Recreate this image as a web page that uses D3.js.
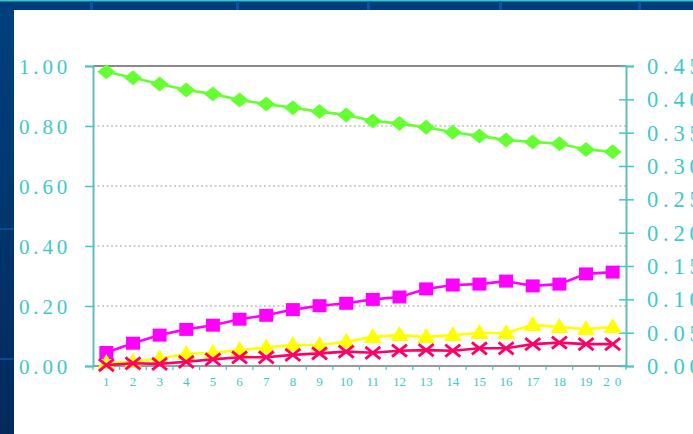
<!DOCTYPE html>
<html>
<head>
<meta charset="utf-8">
<script src="https://cdn.jsdelivr.net/npm/d3@7/dist/d3.min.js"></script>
<style>
  html, body { margin: 0; padding: 0; background: #003b7a; overflow: hidden; }
  svg { display: block; }
</style>
</head>
<body>
<svg id="chart" width="693" height="434"></svg>
<script>
// Categories along the bottom axis
const categories = ["1","2","3","4","5","6","7","8","9","10","11","12","13","14","15","16","17","18","19","20"];

// Series values (left axis)
const greenDiamond = [0.981,0.961,0.940,0.920,0.907,0.887,0.873,0.861,0.848,0.837,0.817,0.808,0.796,0.779,0.767,0.753,0.747,0.741,0.722,0.714];
const magentaSquare = [0.045,0.076,0.103,0.122,0.136,0.156,0.169,0.188,0.201,0.209,0.222,0.230,0.257,0.270,0.273,0.283,0.267,0.273,0.307,0.313];
const yellowTriangle = [0.010,0.013,0.026,0.040,0.044,0.053,0.062,0.070,0.070,0.081,0.097,0.103,0.097,0.103,0.110,0.110,0.137,0.130,0.123,0.130];
const redCross = [0.003,0.009,0.007,0.014,0.022,0.029,0.029,0.037,0.042,0.048,0.044,0.051,0.053,0.051,0.059,0.059,0.073,0.078,0.073,0.073];

// Tick values
const leftTicks = [0, 0.2, 0.4, 0.6, 0.8, 1.0];
const rightTicks = [0, 0.05, 0.10, 0.15, 0.20, 0.25, 0.30, 0.35, 0.40, 0.45];
const gridTicks = [0.2, 0.4, 0.6, 0.8];

const svg = d3.select("#chart");
const W = 693, H = 434;

// ---- Backdrop: navy frame with a white panel ----
const defs = svg.append("defs");
const grad = defs.append("linearGradient").attr("id", "leftStrip").attr("x1", 0).attr("y1", 0).attr("x2", 0).attr("y2", 1);
grad.append("stop").attr("offset", "0%").attr("stop-color", "#00407f");
grad.append("stop").attr("offset", "100%").attr("stop-color", "#002a5c");

svg.append("rect").attr("x", 0).attr("y", 0).attr("width", W).attr("height", H).attr("fill", "#003b7a");
svg.append("rect").attr("x", 0).attr("y", 10).attr("width", 14).attr("height", H - 10).attr("fill", "url(#leftStrip)");
svg.append("rect").attr("x", 0).attr("y", 0).attr("width", W).attr("height", 1.5).attr("fill", "#33c6cc");
[90, 236, 367, 499, 638].forEach(px => {
  svg.append("rect").attr("x", px).attr("y", 1.5).attr("width", 3).attr("height", 8.5).attr("fill", "#0a54a6");
});
[228, 358].forEach(py => {
  svg.append("rect").attr("x", 0).attr("y", py).attr("width", 14).attr("height", 2).attr("fill", "#0a4a92");
});
svg.append("rect").attr("x", 14).attr("y", 10).attr("width", W - 14).attr("height", H - 10).attr("fill", "#ffffff");

// ---- Scales ----
const plotLeft = 93, plotRight = 626, plotTop = 66, plotBottom = 366;
const x = d3.scaleBand().domain(categories).range([plotLeft, plotRight]);
const y = d3.scaleLinear().domain([0, 1]).range([plotBottom, plotTop]);
const y2 = d3.scaleLinear().domain([0, 0.45]).range([plotBottom, plotTop]);
const cx = c => x(c) + x.bandwidth() / 2;

const teal = "#3ec9c9";
const axisTeal = "#62bcbf";
const serif = "'Liberation Serif', 'DejaVu Serif', serif";

// ---- Grid ----
svg.append("g").selectAll("line").data(gridTicks).join("line")
  .attr("x1", plotLeft).attr("x2", plotRight)
  .attr("y1", d => y(d)).attr("y2", d => y(d))
  .attr("stroke", "#a0a0a0").attr("stroke-width", 1.2).attr("stroke-dasharray", "2,2.5");

// top and bottom frame lines
svg.append("line").attr("x1", plotLeft).attr("x2", plotRight).attr("y1", y(1)).attr("y2", y(1))
  .attr("stroke", "#8a8a8a").attr("stroke-width", 2);
svg.append("line").attr("x1", plotLeft).attr("x2", plotRight).attr("y1", y(0)).attr("y2", y(0))
  .attr("stroke", "#9a9a9a").attr("stroke-width", 2);

// ---- Left axis ----
const gL = svg.append("g").attr("transform", `translate(${plotLeft},0)`)
  .call(d3.axisLeft(y).tickValues(leftTicks).tickFormat(d3.format(".2f")).tickSize(8).tickPadding(14));
gL.select(".domain").attr("stroke", axisTeal).attr("stroke-width", 2);
gL.selectAll(".tick line").attr("stroke", teal).attr("stroke-width", 1.5);
gL.selectAll(".tick text").attr("fill", teal).attr("font-family", serif).attr("font-size", 21)
  .attr("letter-spacing", "3.8px").attr("dy", "0.34em");

// ---- Right axis ----
const gR = svg.append("g").attr("transform", `translate(${plotRight},0)`)
  .call(d3.axisRight(y2).tickValues(rightTicks).tickFormat(d3.format(".2f")).tickSize(8).tickPadding(13));
gR.select(".domain").attr("stroke", axisTeal).attr("stroke-width", 2);
gR.selectAll(".tick line").attr("x1", -7).attr("stroke", teal).attr("stroke-width", 1.5);
gR.selectAll(".tick text").attr("fill", teal).attr("font-family", serif).attr("font-size", 22.5)
  .attr("letter-spacing", "4.8px").attr("dy", "0.34em");

// ---- Bottom axis ----
const boundaries = categories.map(c => x(c)).concat([plotRight]);
svg.append("g").selectAll("line").data(boundaries).join("line")
  .attr("x1", d => d).attr("x2", d => d).attr("y1", plotBottom).attr("y2", plotBottom + 4)
  .attr("stroke", teal).attr("stroke-width", 1.2);
const gB = svg.append("g").attr("transform", `translate(0,${plotBottom})`)
  .call(d3.axisBottom(x).tickSize(0).tickPadding(11));
gB.select(".domain").remove();
gB.selectAll(".tick text").attr("fill", teal).attr("font-family", serif).attr("font-size", 13)
  .attr("letter-spacing", d => d === "20" ? "5px" : "0px");
gB.selectAll(".tick").filter(d => d === "20").select("text").attr("dx", "2px");

// ---- Series ----
const line = d3.line().x((d, i) => cx(categories[i])).y(d => y(d));

function drawLine(data, color) {
  svg.append("path").datum(data).attr("d", line)
    .attr("fill", "none").attr("stroke", color).attr("stroke-width", 2.6);
}

const diamond = (w, h) => `M0,${-h/2}L${w/2},0L0,${h/2}L${-w/2},0Z`;
const square = (w, h) => `M${-w/2},${-h/2}H${w/2}V${h/2}H${-w/2}Z`;
const triangle = (w, h) => `M0,${-h*0.6}L${w/2},${h*0.4}L${-w/2},${h*0.4}Z`;
const cross = (w, h) => `M${-w/2},${-h/2}L${w/2},${h/2}M${w/2},${-h/2}L${-w/2},${h/2}`;

function drawMarks(data, shape, color, stroked) {
  svg.append("g").selectAll("path").data(data).join("path")
    .attr("transform", (d, i) => `translate(${cx(categories[i])},${y(d)})`)
    .attr("d", shape)
    .attr("fill", stroked ? "none" : color)
    .attr("stroke", stroked ? color : "none")
    .attr("stroke-width", stroked ? 2.8 : 0);
}

drawLine(greenDiamond, "#66ff33");
drawMarks(greenDiamond, diamond(18, 15), "#66ff33", false);

drawLine(magentaSquare, "#ff00ff");
drawMarks(magentaSquare, square(14, 13), "#ff00ff", false);

drawLine(yellowTriangle, "#ffff00");
drawMarks(yellowTriangle, triangle(18, 15), "#ffff00", false);

drawLine(redCross, "#ff0066");
drawMarks(redCross, cross(15, 12), "#ff0066", true);
</script>
</body>
</html>
